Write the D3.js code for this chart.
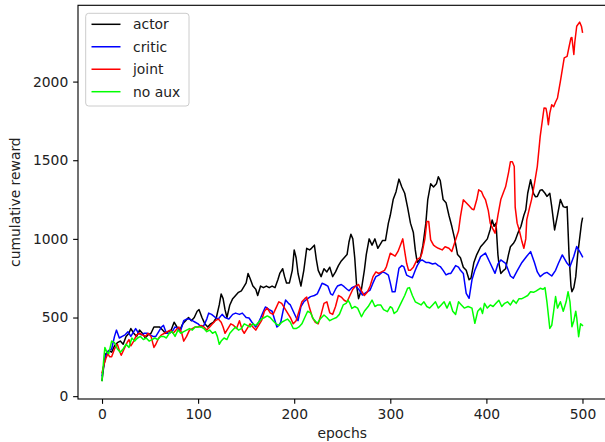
<!DOCTYPE html>
<html>
<head>
<meta charset="utf-8">
<script src="https://cdn.jsdelivr.net/npm/d3@7"></script>
<style>
  html, body { margin: 0; padding: 0; background: #fff; }
  svg { display: block; }
  text { font-family: "DejaVu Sans", sans-serif; }
</style>
</head>
<body>
<svg id="chart" width="605" height="442"></svg>
<script>
// ---------------- data (epoch, cumulative reward) ----------------
const seriesNames = ["actor", "critic", "joint", "no aux"];
const seriesColors = ["#000000", "#0000ff", "#ff0000", "#00ff00"];
const xTicks = [0, 100, 200, 300, 400, 500];
const yTicks = [0, 500, 1000, 1500, 2000];
const xLabel = "epochs";
const yLabel = "cumulative reward";

const actor = [[0,100],[2,200],[4,270],[7,290],[10,280],[13,320],[16,340],[19,350],[22,330],[25,380],[28,400],[30,430],[33,400],[36,380],[39,420],[42,400],[45,370],[48,390],[51,400],[54,440],[57,440],[60,440],[63,420],[66,400],[69,410],[72,420],[75,470],[78,440],[81,420],[84,460],[87,480],[90,500],[93,480],[96,500],[99,540],[101,550],[104,500],[107,460],[110,440],[113,460],[116,470],[119,500],[122,580],[124,650],[126,620],[128,550],[130,500],[133,580],[136,620],[139,640],[142,660],[145,670],[148,700],[150,720],[152,780],[154,750],[157,700],[160,680],[162,640],[165,700],[168,690],[171,700],[174,690],[177,700],[180,690],[183,740],[185,780],[188,810],[190,760],[192,720],[195,720],[198,800],[200,930],[202,880],[204,780],[207,700],[210,800],[213,940],[216,930],[218,940],[221,960],[223,870],[225,800],[228,760],[231,810],[234,790],[237,820],[240,760],[243,790],[246,830],[249,860],[252,880],[255,900],[257,980],[259,1030],[261,1000],[263,880],[265,700],[267,620],[270,680],[273,800],[275,900],[278,1000],[281,960],[284,1000],[287,940],[290,970],[292,990],[295,990],[298,1100],[300,1150],[303,1250],[306,1300],[309,1380],[312,1330],[315,1290],[318,1200],[321,1100],[324,1040],[326,930],[328,850],[331,870],[334,960],[337,1100],[339,1250],[342,1350],[345,1330],[348,1350],[350,1395],[352,1370],[355,1250],[358,1230],[361,1150],[364,1080],[367,1000],[370,900],[373,880],[376,820],[379,800],[382,740],[384,750],[387,850],[390,900],[394,950],[397,970],[401,1000],[404,1060],[406,1120],[408,1080],[410,1100],[412,900],[413,845],[415,780],[418,800],[420,810],[423,900],[425,950],[428,970],[430,990],[433,1040],[436,1080],[439,1150],[441,1185],[443,1290],[446,1376],[449,1290],[451,1268],[453,1270],[456,1310],[458,1312],[461,1290],[463,1270],[466,1290],[468,1205],[471,1057],[474,1150],[477,1250],[480,1205],[482,1200],[484,1205],[486,900],[488,700],[489,664],[491,690],[493,760],[495,900],[497,1000],[499,1100],[500,1130]];

const critic = [[0,130],[2,200],[4,260],[7,290],[10,300],[13,380],[15,420],[18,370],[21,380],[24,390],[27,410],[30,380],[33,410],[35,430],[38,400],[41,390],[44,400],[47,400],[50,390],[53,380],[56,380],[59,410],[62,440],[64,450],[67,400],[70,400],[73,410],[76,440],[79,430],[82,420],[85,480],[88,490],[91,490],[94,480],[97,470],[100,460],[103,440],[106,450],[109,490],[111,528],[114,520],[118,500],[121,490],[125,520],[128,500],[132,490],[136,520],[139,528],[143,520],[146,528],[150,500],[153,497],[156,470],[160,440],[163,470],[165,497],[168,540],[170,567],[174,550],[177,540],[180,480],[182,440],[184,450],[186,470],[189,560],[191,611],[194,590],[196,580],[199,540],[202,500],[204,480],[207,569],[210,600],[214,620],[217,633],[221,640],[224,650],[227,690],[229,718],[232,710],[235,700],[238,650],[240,643],[243,680],[245,700],[249,710],[252,696],[255,680],[257,670],[260,690],[264,700],[267,680],[271,643],[275,660],[279,675],[282,720],[285,760],[288,770],[292,790],[295,782],[298,770],[300,720],[302,664],[305,664],[307,740],[309,813],[312,830],[314,824],[317,770],[320,760],[323,753],[326,800],[328,830],[331,860],[333,866],[337,850],[340,850],[344,840],[347,845],[350,830],[352,824],[355,800],[358,771],[361,780],[363,780],[366,810],[368,830],[371,820],[373,800],[376,780],[379,654],[382,622],[385,740],[388,800],[390,830],[394,887],[399,910],[404,845],[409,781],[412,840],[415,866],[420,845],[425,764],[428,750],[432,796],[437,850],[442,890],[446,919],[450,850],[453,790],[456,760],[460,780],[463,787],[468,764],[472,800],[475,845],[479,898],[484,845],[487,824],[491,890],[494,951],[497,920],[500,887]];

const joint = [[0,150],[2,200],[4,240],[6,270],[8,250],[10,250],[13,300],[16,330],[18,290],[20,260],[23,300],[26,340],[28,360],[30,320],[33,350],[36,390],[39,400],[42,390],[45,380],[48,400],[51,380],[54,310],[56,330],[59,370],[62,390],[65,400],[68,410],[71,420],[74,400],[77,420],[80,440],[83,400],[85,350],[88,380],[91,420],[94,430],[97,440],[100,440],[103,450],[106,440],[109,420],[112,440],[115,460],[118,480],[121,490],[124,470],[126,440],[128,400],[131,430],[134,460],[137,450],[140,430],[143,480],[146,420],[148,400],[151,430],[154,460],[157,440],[160,420],[163,450],[166,480],[169,540],[172,560],[175,530],[178,520],[181,560],[184,600],[187,590],[190,560],[193,530],[196,500],[199,460],[202,480],[205,540],[208,600],[211,620],[213,630],[216,560],[219,500],[222,470],[225,460],[228,520],[231,590],[234,600],[237,530],[240,520],[243,570],[246,640],[249,630],[252,610],[255,600],[258,640],[261,680],[264,700],[267,710],[270,670],[273,640],[276,660],[279,700],[282,760],[285,790],[288,780],[291,790],[294,800],[296,824],[300,909],[305,890],[308,920],[310,951],[313,1000],[315,920],[317,845],[319,800],[321,800],[324,820],[328,870],[331,880],[333,909],[336,1000],[338,1110],[340,1110],[342,994],[345,960],[347,951],[350,940],[354,930],[357,950],[361,940],[364,920],[368,994],[371,1050],[373,1142],[376,1248],[379,1230],[382,1210],[385,1190],[387,1185],[390,1250],[392,1312],[395,1300],[397,1270],[399,1250],[402,1180],[404,1100],[407,1060],[409,1036],[412,1150],[415,1250],[418,1300],[420,1331],[423,1420],[425,1490],[427,1490],[429,1460],[430,1200],[432,1100],[434,1060],[437,983],[439,940],[441,1000],[442,1121],[445,1200],[447,1250],[450,1350],[453,1461],[456,1652],[460,1832],[462,1830],[463,1800],[464.5,1726],[466,1800],[468,1853],[470,1840],[472,1870],[474,1896],[477,2002],[481,2151],[484,2160],[486,2220],[488,2278],[489,2280],[491,2172],[492,2250],[494,2352],[497,2378],[499,2350],[500,2314]];

const noAux = [[0,100],[2,250],[3,310],[5,280],[7,270],[10,350],[13,340],[16,300],[19,280],[22,300],[25,330],[28,310],[31,370],[34,350],[37,370],[40,380],[43,360],[46,370],[49,350],[52,360],[55,370],[58,360],[61,380],[64,380],[67,370],[70,400],[73,410],[76,380],[79,420],[82,400],[85,410],[88,420],[91,430],[94,420],[97,440],[100,440],[103,440],[106,430],[109,410],[112,420],[115,400],[118,410],[120,380],[122,330],[124,350],[127,370],[130,360],[133,400],[136,420],[139,440],[142,420],[145,430],[148,460],[151,450],[154,440],[157,460],[160,450],[163,470],[166,490],[169,500],[172,510],[175,500],[178,480],[181,460],[184,450],[187,470],[190,480],[193,490],[196,470],[199,430],[202,430],[205,440],[208,460],[211,500],[214,540],[217,530],[220,490],[224,463],[227,490],[231,516],[234,500],[237,480],[240,490],[244,500],[247,520],[251,580],[254,590],[256,611],[258,590],[260,558],[263,570],[266,560],[270,505],[273,540],[277,570],[281,611],[284,570],[287,580],[290,580],[293,550],[297,537],[300,569],[302,560],[304,526],[307,540],[311,590],[315,640],[318,686],[320,690],[323,640],[326,600],[329,590],[332,580],[335,600],[338,570],[341,560],[344,580],[347,600],[350,560],[353,580],[356,600],[359,560],[362,600],[365,540],[368,520],[371,600],[374,580],[377,560],[381,570],[385,560],[388,463],[391,540],[394,560],[396,526],[398,590],[401,560],[404,580],[407,570],[410,590],[413,610],[416,570],[419,590],[422,600],[425,580],[428,610],[431,590],[434,620],[437,620],[440,630],[443,640],[446,664],[449,660],[452,670],[456,686],[459,680],[461,690],[463,600],[466,431],[468,450],[470,540],[472,633],[474,560],[477,600],[480,540],[483,600],[485,664],[487,600],[489,441],[491,480],[493,540],[494,500],[496,378],[498,460],[500,450]];

const seriesData = [actor, critic, joint, noAux];

// ---------------- layout ----------------
const svg = d3.select("#chart");
const plotLeft = 78, plotRight = 606.5, plotTop = 5.3, plotBottom = 399;
const pt = 100 / 72; // points -> pixels
const lineW = 1.5;

const x = d3.scaleLinear().domain([-25, 525]).range([plotLeft, plotRight]);
const y = d3.scaleLinear().domain([-18, 2485]).range([plotBottom, plotTop]);

svg.append("defs").append("clipPath").attr("id", "plotclip")
  .append("rect").attr("x", plotLeft).attr("y", plotTop)
  .attr("width", plotRight - plotLeft).attr("height", plotBottom - plotTop);

// lines
const line = d3.line().x(d => x(d[0])).y(d => y(d[1]));
const gLines = svg.append("g").attr("clip-path", "url(#plotclip)");
seriesData.forEach((data, i) => {
  gLines.append("path")
    .datum(data)
    .attr("d", line)
    .attr("fill", "none")
    .attr("stroke", seriesColors[i])
    .attr("stroke-width", lineW)
    .attr("stroke-linejoin", "round")
    .attr("stroke-linecap", "square");
});

// axes
const fontPx = 10 * pt;
const fmt = d3.format("d");
const xAxis = d3.axisBottom(x).tickValues(xTicks).tickFormat(fmt).tickSize(3.5 * pt).tickPadding(3.5 * pt).tickSizeOuter(0);
const yAxis = d3.axisLeft(y).tickValues(yTicks).tickFormat(fmt).tickSize(3.5 * pt).tickPadding(3.5 * pt).tickSizeOuter(0);

const gx = svg.append("g").attr("transform", `translate(0,${plotBottom})`).call(xAxis);
const gy = svg.append("g").attr("transform", `translate(${plotLeft},0)`).call(yAxis);
[gx, gy].forEach(g => {
  g.select(".domain").remove();
  g.selectAll(".tick line").attr("stroke", "#000").attr("stroke-width", 0.8 * pt);
  g.selectAll(".tick text").attr("fill", "#222")
    .style("font-family", "'DejaVu Sans', sans-serif").style("font-size", fontPx + "px");
});

// spines (frame)
svg.append("rect")
  .attr("x", plotLeft).attr("y", plotTop)
  .attr("width", plotRight - plotLeft).attr("height", plotBottom - plotTop)
  .attr("fill", "none").attr("stroke", "#000").attr("stroke-width", 0.8 * pt);

// axis labels
svg.append("text")
  .attr("x", (plotLeft + plotRight) / 2).attr("y", 438)
  .attr("text-anchor", "middle")
  .style("font-size", fontPx + "px")
  .attr("fill", "#222")
  .text(xLabel);

svg.append("text")
  .attr("transform", `translate(20,${(plotTop + plotBottom) / 2}) rotate(-90)`)
  .attr("text-anchor", "middle")
  .style("font-size", fontPx + "px")
  .attr("fill", "#222")
  .text(yLabel);

// legend
const lg = svg.append("g");
lg.append("rect")
  .attr("x", 85.7).attr("y", 13.3)
  .attr("width", 189 - 85.7).attr("height", 106 - 13.3)
  .attr("rx", 3).attr("ry", 3)
  .attr("fill", "#fff").attr("fill-opacity", 0.8)
  .attr("stroke", "#cccccc").attr("stroke-width", 1);
const legendY = d3.scalePoint().domain(seriesNames).range([24.3, 91.7]);
seriesNames.forEach((name, i) => {
  const cy = legendY(name);
  lg.append("line")
    .attr("x1", 91.5).attr("x2", 120.5)
    .attr("y1", cy).attr("y2", cy)
    .attr("stroke", seriesColors[i])
    .attr("stroke-width", lineW);
  lg.append("text")
    .attr("x", 133).attr("y", cy + 5)
    .style("font-size", fontPx + "px")
    .attr("fill", "#222")
    .text(name);
});
</script>
</body>
</html>
